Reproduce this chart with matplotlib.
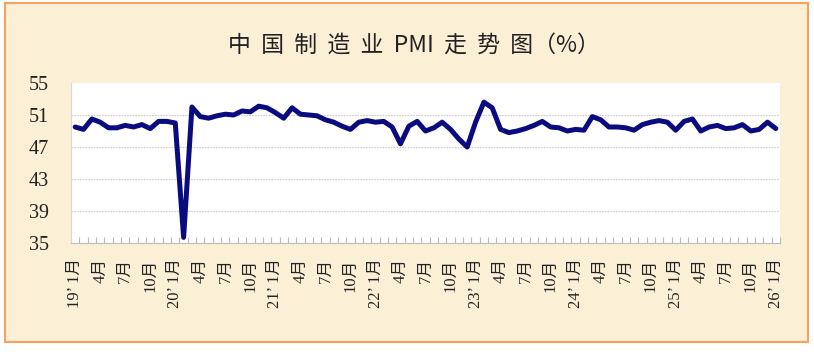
import matplotlib.pyplot as plt
from matplotlib.patches import Rectangle
import numpy as np

# China manufacturing PMI, monthly, 2019-01 .. 2026-01
pmi_2019 = [49.5, 49.2, 50.5, 50.1, 49.4, 49.4, 49.7, 49.5, 49.8, 49.3, 50.2, 50.2]
pmi_2020 = [50.0, 35.7, 52.0, 50.8, 50.6, 50.9, 51.1, 51.0, 51.5, 51.4, 52.1, 51.9]
pmi_2021 = [51.3, 50.6, 51.9, 51.1, 51.0, 50.9, 50.4, 50.1, 49.6, 49.2, 50.1, 50.3]
pmi_2022 = [50.1, 50.2, 49.5, 47.4, 49.6, 50.2, 49.0, 49.4, 50.1, 49.2, 48.0, 47.0]
pmi_2023 = [50.1, 52.6, 51.9, 49.2, 48.8, 49.0, 49.3, 49.7, 50.2, 49.5, 49.4, 49.0]
pmi_2024 = [49.2, 49.1, 50.8, 50.4, 49.5, 49.5, 49.4, 49.1, 49.8, 50.1, 50.3, 50.1]
pmi_2025 = [49.1, 50.2, 50.5, 49.0, 49.5, 49.7, 49.3, 49.4, 49.8, 49.0, 49.2, 50.1]
pmi_2026 = [49.3]

years = ["19", "20", "21", "22", "23", "24", "25", "26"]
yticks = [35, 39, 43, 47, 51, 55]
title_chars = ["中", "国", "制", "造", "业", "PMI", "走", "势", "图（%）"]

values = pmi_2019 + pmi_2020 + pmi_2021 + pmi_2022 + pmi_2023 + pmi_2024 + pmi_2025 + pmi_2026
n = len(values)
x = np.arange(n)

# tick labels every 3 months
tick_pos = list(range(0, n, 3))
tick_labels = []
for i in tick_pos:
    m = i % 12 + 1
    if m == 1:
        tick_labels.append(f"{years[i // 12]}’ {m}月")
    else:
        tick_labels.append(f"{m}月")

plt.rcParams['font.family'] = ['Liberation Serif', 'Noto Sans CJK SC']

fig = plt.figure(figsize=(8.14, 3.52), dpi=100, facecolor='white')

# paper-like background panel with orange border
fig.patches.append(Rectangle((5 / 814, 1 - 342 / 352), 803 / 814, 339 / 352,
                             transform=fig.transFigure, facecolor='#FBEFD6',
                             edgecolor='#F6A15E', linewidth=1.5, zorder=-5))

ax = fig.add_axes([71 / 814, 1 - 243 / 352, 709 / 814, 160 / 352])
ax.set_zorder(2)
ax.set_facecolor('white')

ax.plot(x, values, color='#0B0B80', linewidth=3.6, solid_joinstyle='round',
        solid_capstyle='round', zorder=3)

ax.set_xlim(-0.5, n - 0.5)
ax.set_ylim(35, 55)
ax.set_yticks(yticks)
ax.set_yticklabels([str(v) for v in yticks], fontsize=14.5, color='#222222')
ax.tick_params(axis='y', length=0, pad=16)

ax.set_xticks(tick_pos)
ax.set_xticklabels(tick_labels, rotation=90, fontsize=12, color='#222222')
ax.set_xticks(np.arange(-0.5, n, 1), minor=True)
ax.tick_params(axis='x', which='major', length=0, pad=11)
ax.tick_params(axis='x', which='minor', direction='in', length=4,
               color='#BBBBBB', width=0.8)

for v in yticks[1:-1]:
    ax.axhline(v, color='#CCCCCC', linewidth=0.8, linestyle=(0, (1.5, 1)), zorder=1)

for side in ['top', 'right']:
    ax.spines[side].set_visible(False)
ax.spines['left'].set_color('#D8D8D8')
ax.spines['bottom'].set_color('#BBBBBB')
ax.spines['left'].set_linewidth(0.8)
ax.spines['bottom'].set_linewidth(0.8)

fig.text(414 / 814, 1 - 46 / 352, "  ".join(title_chars),
         ha='center', va='center', fontsize=16.5, color='#222222',
         family=['Noto Sans CJK SC', 'DejaVu Sans'])

fig.savefig('out.png', dpi=100, facecolor='white')
